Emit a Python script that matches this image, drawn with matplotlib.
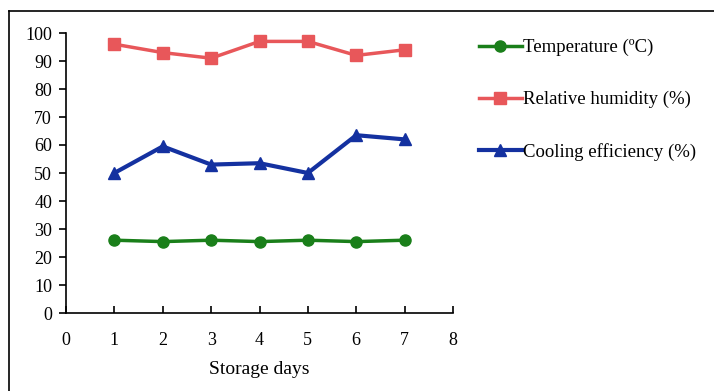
import matplotlib
matplotlib.use("Agg")
import matplotlib.pyplot as plt
from matplotlib.lines import Line2D

days = [1, 2, 3, 4, 5, 6, 7]
temperature = [26, 25.5, 26, 25.5, 26, 25.5, 26]
humidity = [96, 93, 91, 97, 97, 92, 94]
cooling = [50, 59.5, 53, 53.5, 50, 63.5, 62]

x_ticks = [0, 1, 2, 3, 4, 5, 6, 7, 8]
y_ticks = [0, 10, 20, 30, 40, 50, 60, 70, 80, 90, 100]

plt.rcParams['font.family'] = ['Liberation Serif', 'DejaVu Serif']

W, H = 714, 391
fig = plt.figure(figsize=(W / 100, H / 100), dpi=100)
ax = fig.add_axes([66 / W, 1 - 313 / H, (453 - 66) / W, (313 - 33) / H])

ax.plot(days, temperature, color='#1a7f1a', lw=2.5, marker='o', ms=8,
        label='Temperature (\u00baC)')
ax.plot(days, humidity, color='#e8575a', lw=2.5, marker='s', ms=8,
        label='Relative humidity (%)')
ax.plot(days, cooling, color='#1431a0', lw=3, marker='^', ms=9,
        label='Cooling efficiency (%)')

ax.set_xlim(0, 8)
ax.set_ylim(0, 100)
ax.set_xticks(x_ticks)
ax.set_yticks(y_ticks)
ax.spines['top'].set_visible(False)
ax.spines['right'].set_visible(False)
ax.spines['left'].set_linewidth(1.2)
ax.spines['bottom'].set_linewidth(1.2)
ax.tick_params(axis='x', direction='in', length=5, width=1.2, labelsize=13, pad=14)
ax.tick_params(axis='y', direction='out', length=5, width=1.2, labelsize=13, pad=5)
ax.set_xlabel('Storage days', fontsize=14, labelpad=8)

ax.legend(loc='upper left', bbox_to_anchor=(462 / W, 1 - 22 / H),
          bbox_transform=fig.transFigure, frameon=False, fontsize=13.5,
          handlelength=2.3, handletextpad=0.05, labelspacing=1.85)

# outer frame
fig.add_artist(Line2D([9 / W, 9 / W], [0, 1 - 11 / H], color='black', lw=1.2,
                      transform=fig.transFigure))
fig.add_artist(Line2D([9 / W, 1], [1 - 11 / H, 1 - 11 / H], color='black', lw=1.2,
                      transform=fig.transFigure))

fig.savefig('out.png', dpi=100)
